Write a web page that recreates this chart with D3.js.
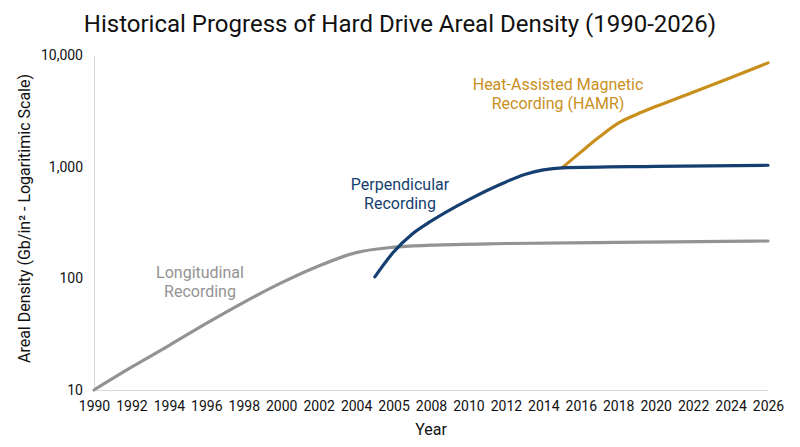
<!DOCTYPE html>
<html>
<head>
<meta charset="utf-8">
<script src="https://d3js.org/d3.v7.min.js"></script>
<style>
  body { margin: 0; background: #fff; font-family: Roboto, sans-serif; }
  .tick text { font: 14px Roboto; fill: #111; }
</style>
</head>
<body>
<div id="chart"></div>
<script>
// data
const longYears = [1990, 1992, 1994, 1996, 1998, 2000, 2002, 2004, 2006, 2008, 2012, 2018, 2026];
const longVals  = [10, 16, 25, 39.5, 61, 91, 129, 170, 190, 198, 205, 210, 216];
const perpYears = [2005, 2006, 2007, 2008, 2010, 2012, 2013, 2014, 2015, 2020, 2026];
const perpVals  = [103, 172, 250, 325, 505, 730, 850, 935, 975, 1005, 1030];
const hamrYears = [2015, 2016, 2017, 2018, 2019, 2020, 2022, 2024, 2026];
const hamrVals  = [975, 1350, 1850, 2450, 2950, 3450, 4650, 6250, 8500];
const xTicks = [1990, 1992, 1994, 1996, 1998, 2000, 2002, 2004, 2006, 2008, 2010, 2012, 2014, 2016, 2018, 2020, 2022, 2024, 2026];
const xTickLabels = ["1990", "1992", "1994", "1996", "1998", "2000", "2002", "2004", "2005", "2008", "2010", "2012", "2014", "2016", "2018", "2020", "2022", "2024", "2026"];
const yTicks = [10, 100, 1000, 10000];

const W = 800, H = 447;
const margin = {left: 94, right: 32, top: 55, bottom: 57};

const svg = d3.select("#chart").append("svg")
    .attr("width", W).attr("height", H);

const x = d3.scaleLinear().domain([1990, 2026]).range([margin.left, W - margin.right]);
const y = d3.scaleLog().domain([10, 10000]).range([H - margin.bottom, margin.top]);

// title
svg.append("text")
    .attr("x", 400).attr("y", 32)
    .attr("text-anchor", "middle")
    .style("font", "24px Roboto").style("fill", "#111")
    .text("Historical Progress of Hard Drive Areal Density (1990-2026)");

// axes
const xAxis = svg.append("g")
    .attr("transform", "translate(0," + (H - margin.bottom) + ")")
    .call(d3.axisBottom(x).tickValues(xTicks).tickSize(0).tickPadding(11)
        .tickFormat((d, i) => xTickLabels[i]));
xAxis.select(".domain").attr("stroke", "#d9d9d9");

const yAxis = svg.append("g")
    .attr("transform", "translate(" + margin.left + ",0)")
    .call(d3.axisLeft(y).tickValues(yTicks).tickSize(0).tickPadding(11)
        .tickFormat(d3.format(",")));
yAxis.select(".domain").attr("stroke", "#d9d9d9");

// axis titles
svg.append("text")
    .attr("x", x(2008)).attr("y", 435)
    .attr("text-anchor", "middle")
    .style("font", "16px Roboto").style("fill", "#111")
    .text("Year");

svg.append("text")
    .attr("transform", "translate(30," + ((margin.top + H - margin.bottom) / 2 - 4) + ") rotate(-90)")
    .attr("text-anchor", "middle")
    .style("font", "16px Roboto").style("fill", "#111")
    .text("Areal Density (Gb/in² - Logaritimic Scale)");

// lines
const line = d3.line()
    .x(d => x(d[0]))
    .y(d => y(d[1]))
    .curve(d3.curveMonotoneX);

function drawSeries(years, vals, color) {
    svg.append("path")
        .datum(years.map((yr, i) => [yr, vals[i]]))
        .attr("fill", "none")
        .attr("stroke", color)
        .attr("stroke-width", 3.2)
        .attr("stroke-linecap", "round")
        .attr("d", line);
}
drawSeries(longYears, longVals, "#939393");
drawSeries(hamrYears, hamrVals, "#c98f1c");
drawSeries(perpYears, perpVals, "#153f70");

// annotations
function label(lines, cx, cy, color) {
    const t = svg.append("text")
        .attr("text-anchor", "middle")
        .style("font", "16px Roboto").style("fill", color);
    lines.forEach((s, i) => {
        t.append("tspan").attr("x", cx).attr("y", cy + i * 19).text(s);
    });
}
label(["Longitudinal", "Recording"], 200, 278, "#939393");
label(["Perpendicular", "Recording"], 400, 190, "#153f70");
label(["Heat-Assisted Magnetic", "Recording (HAMR)"], 558, 90, "#c98f1c");
</script>
</body>
</html>
